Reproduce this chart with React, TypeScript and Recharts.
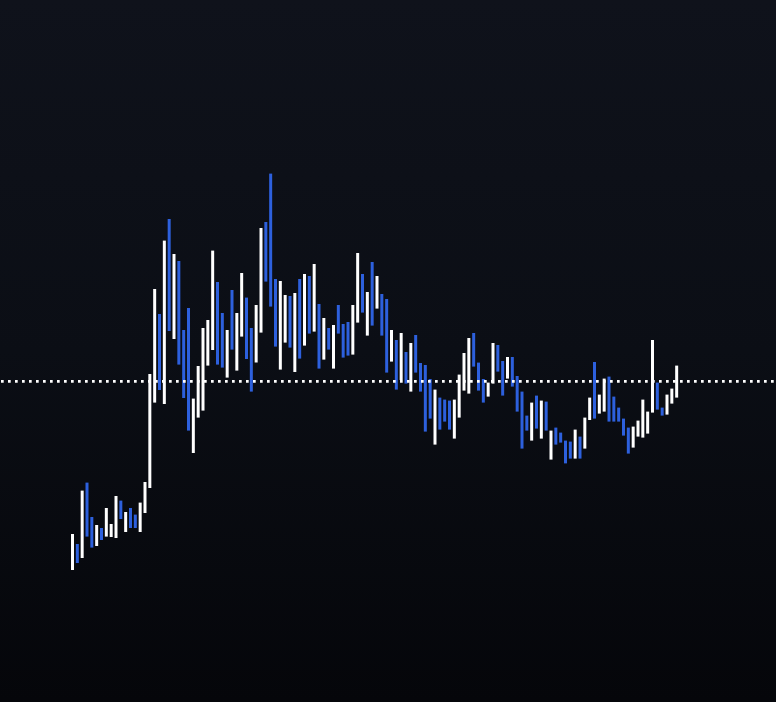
import React from 'react';
import { BarChart, Bar, XAxis, YAxis, ReferenceLine, Cell } from 'recharts';

// Per-session high / low prices and direction (true = up / white, false = down / blue)
const highs: number[] = [
  12.35, 11.85, 14.52, 14.92, 13.2, 12.8, 12.65, 13.65, 12.85, 14.25,
  14.02, 13.45, 13.65, 13.32, 13.92, 14.95, 20.35, 24.6, 23.35, 27.02,
  28.1, 26.35, 26.0, 22.55, 23.65, 19.12, 20.75, 22.65, 23.05, 26.52,
  24.95, 23.4, 22.55, 24.55, 23.4, 25.4, 24.17, 22.65, 23.8, 27.65,
  27.95, 30.37, 25.1, 25.0, 24.3, 24.25, 24.4, 25.1, 25.35, 25.25,
  25.85, 23.85, 23.15, 22.65, 22.8, 23.8, 22.85, 22.95, 23.8, 26.4,
  25.35, 24.45, 25.95, 25.25, 24.35, 24.1, 22.55, 22.05, 22.4, 21.45,
  21.9, 22.3, 20.9, 20.8, 20.1, 19.57, 19.17, 19.07, 19.02, 19.07,
  20.32, 21.4, 22.15, 22.4, 20.92, 20.1, 19.92, 21.9, 21.8, 21.0,
  21.2, 21.2, 20.25, 19.47, 18.27, 18.92, 19.27, 19.02, 18.97, 17.52,
  17.67, 17.42, 17.02, 16.97, 17.57, 17.22, 18.17, 19.17, 20.95, 19.32,
  20.12, 20.22, 19.22, 18.67, 18.12, 17.67, 17.72, 18.02, 19.07, 18.47,
  22.05, 19.92, 18.67, 19.32, 19.62, 20.77,
];

const lows: number[] = [
  10.55, 10.9, 11.15, 12.22, 11.67, 11.75, 12.05, 12.22, 12.2, 12.15,
  13.1, 12.45, 12.65, 12.65, 12.45, 13.4, 14.65, 18.92, 19.55, 18.85,
  22.5, 22.1, 20.82, 19.15, 17.52, 16.4, 18.17, 18.52, 20.77, 21.55,
  20.82, 20.67, 20.17, 21.57, 20.52, 22.22, 21.1, 19.47, 20.92, 22.42,
  24.97, 23.72, 21.72, 20.57, 21.92, 21.67, 20.45, 21.12, 21.77, 22.37,
  22.47, 20.62, 21.07, 21.57, 20.62, 22.37, 21.17, 21.27, 21.32, 22.92,
  23.42, 22.27, 22.77, 23.62, 22.27, 20.42, 20.97, 19.57, 20.05, 19.87,
  19.47, 20.42, 19.47, 17.47, 18.12, 16.82, 17.57, 17.97, 17.57, 17.12,
  18.17, 19.52, 19.37, 20.72, 19.52, 18.92, 19.22, 19.87, 20.47, 19.27,
  20.12, 19.72, 18.47, 16.62, 17.52, 17.02, 17.62, 17.12, 17.52, 16.07,
  16.82, 16.92, 15.88, 16.12, 16.12, 16.12, 16.62, 18.05, 18.12, 18.37,
  18.47, 17.97, 17.97, 17.97, 17.27, 16.37, 16.67, 17.22, 17.17, 17.37,
  18.42, 18.57, 18.27, 18.32, 18.87, 19.17,
];

const up: boolean[] = [
  true, false, true, false, false, true, false, true, true, true,
  false, true, false, false, true, true, true, true, false, true,
  false, true, false, false, false, true, true, true, true, true,
  false, false, true, false, true, true, false, false, true, true,
  false, false, false, true, true, false, true, false, true, false,
  true, false, true, false, true, false, false, false, true, true,
  false, true, false, true, false, false, true, false, true, false,
  true, false, false, false, false, true, false, false, false, true,
  true, true, true, false, false, false, true, true, false, false,
  true, false, false, false, false, true, false, true, false, true,
  false, false, false, false, true, false, true, true, false, true,
  true, false, false, false, false, false, true, true, true, true,
  true, false, false, true, true, true,
];

const referencePrice = 19.98;
const priceDomain: [number, number] = [3.95, 39.05];

const UP_COLOR = '#ffffff';
const DOWN_COLOR = '#2d60dd';

const rows = highs.map((h, i) => ({ idx: i, range: [lows[i], h] as [number, number] }));

export default function App() {
  return (
    <div
      style={{
        position: 'absolute',
        left: 0,
        top: 0,
        width: 776,
        height: 702,
        background: 'linear-gradient(180deg, #0f121b 0%, #0b0e15 50%, #05060a 100%)',
      }}
    >
      <BarChart
        width={776}
        height={702}
        data={rows}
        margin={{ top: 0, right: 0, bottom: 0, left: 0 }}
        barCategoryGap={0}
      >
        <XAxis dataKey="idx" hide padding={{ left: 70, right: 97 }} />
        <YAxis hide type="number" domain={priceDomain} allowDataOverflow />
        <ReferenceLine
          y={referencePrice}
          stroke="#ffffff"
          strokeWidth={2.6}
          strokeDasharray="2.7 4.3"
          strokeDashoffset={-1}
        />
        <Bar dataKey="range" barSize={3} isAnimationActive={false}>
          {rows.map((r, i) => (
            <Cell key={i} fill={up[i] ? UP_COLOR : DOWN_COLOR} />
          ))}
        </Bar>
      </BarChart>
    </div>
  );
}
